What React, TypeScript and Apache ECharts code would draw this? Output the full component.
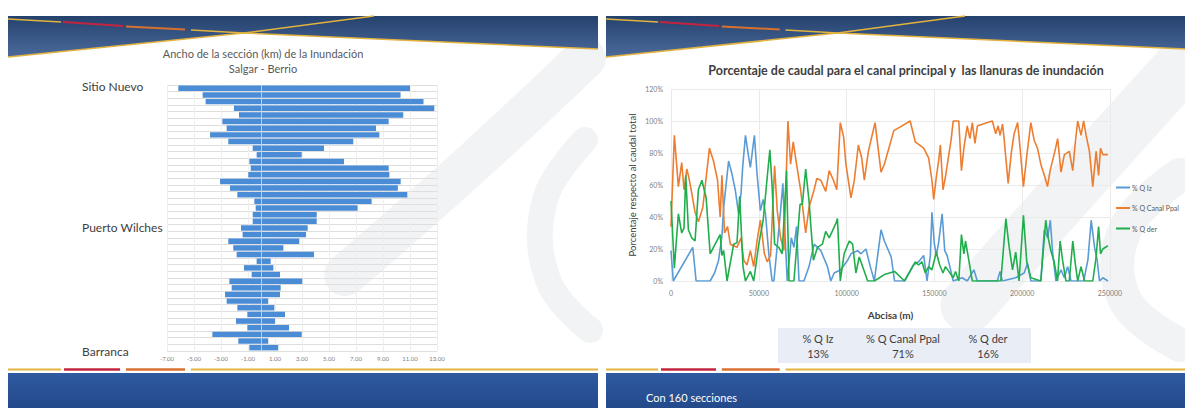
import React, { useEffect, useRef } from 'react';
import * as echarts from 'echarts';

const FONT = 'Lato, "Open Sans", sans-serif';

// ---- Ancho de la sección (km) de la inundación, Salgar - Berrio ----
const seccionesAncho = Array.from({ length: 40 }, (_, i) => `S${i + 1}`);
const lugares: [number, string, string][] = [
  [0, 'Sitio Nuevo', 'arriba'],
  [21, 'Puerto Wilches', 'medio'],
  [39, 'Barranca', 'abajo'],
];
const margenIzquierda = [
  -6.16, -4.36, -4.14, -2.04, -1.67, -2.9, -2.58, -3.81, -2.46, -0.65,
  -0.36, -0.9, -0.8, -0.98, -3.07, -2.33, -1.79, -0.53, -0.43, -0.65,
  -0.65, -1.52, -1.4, -2.46, -2.09, -1.84, -0.36, -1.3, -0.73, -2.38,
  -2.21, -2.7, -2.58, -1.79, -1.05, -1.89, -1.05, -3.64, -1.72, -0.9,
];
const margenDerecha = [
  11.0, 10.3, 12.0, 12.8, 10.5, 9.42, 8.48, 8.73, 6.8, 4.63,
  2.98, 6.11, 9.42, 9.47, 10.31, 10.1, 10.8, 8.16, 7.12, 4.09,
  4.09, 3.42, 3.3, 2.8, 1.62, 3.89, 0.68, 0.88, 1.37, 3.02,
  1.42, 1.37, 0.5, 0.95, 1.74, 1.0, 2.04, 2.98, 0.5, 1.24,
];

// ---- Porcentaje de caudal por abscisa (m) ----
const abscisaIz = [
  0, 1300, 12400, 14300, 22300, 24800, 27100, 29000, 30000, 32800,
  34700, 36600, 38500, 39900, 40800, 42400, 44300, 45200, 47500, 49000,
  50900, 52500, 53800, 55700, 57600, 58600, 62400, 63700, 64700, 66200,
  67700, 68500, 70000, 71500, 72900, 75700, 78600, 81500, 83400, 85300,
  89100, 91000, 92900, 96700, 100600, 102500, 106300, 108200, 111000, 113500,
  115800, 119600, 121500, 125400, 127300, 133000, 138100, 141000, 143900, 145800,
  147700, 148600, 149900, 151100, 152400, 154400, 155900, 157200, 158800, 160700,
  165800, 168700, 172500, 174400, 185800, 187400, 188700, 196300, 201100, 203000,
  204900, 210600, 212600, 214500, 216000, 217300, 219200, 222100, 224000, 225900,
  227800, 235000, 237400, 239300, 241200, 242700, 244000, 245900, 248800,
];
const qIz = [
  19, 0, 21, 0, 0, 5, 13, 28, 46, 75,
  67, 57, 42, 55, 71, 91, 77, 71, 91, 67,
  44, 51, 42, 17, 0, 0, 44, 61, 34, 0,
  17, 27, 21, 34, 0, 0, 9, 23, 21, 19,
  9, 0, 5, 7, 13, 17, 19, 17, 20, 9,
  0, 32, 25, 15, 0, 0, 10, 12, 16, 0,
  16, 43, 24, 16, 24, 42, 19, 16, 9, 0,
  2, 0, 7, 0, 0, 6, 0, 2, 5, 11,
  0, 0, 32, 27, 38, 18, 0, 7, 2, 9,
  0, 0, 13, 38, 21, 13, 0, 2, 0,
];

const abscisaCanal = [
  0, 1900, 4200, 6100, 7400, 9000, 10300, 11800, 13700, 15600,
  18100, 21900, 24200, 26500, 28000, 29000, 30500, 32200, 33800, 35700,
  37600, 39900, 41400, 43300, 45200, 47100, 49000, 50900, 53200, 54800,
  56700, 59000, 60500, 62400, 64300, 66600, 68100, 69600, 71500, 73800,
  76700, 78600, 81500, 83000, 85300, 88100, 90100, 92500, 94400, 96400,
  98300, 99600, 102500, 104400, 106700, 108600, 110100, 112400, 116200, 119600,
  121500, 126900, 130100, 136200, 139100, 143900, 146700, 148600, 149600, 151100,
  152400, 153400, 154900, 156300, 158200, 159500, 160700, 163900, 165400, 166800,
  168700, 170200, 171600, 173100, 174500, 177300, 180200, 183000, 184900, 186300,
  187400, 188800, 189700, 192000, 193900, 195400, 197400, 198800, 200700, 202600,
  204900, 206800, 208700, 210600, 212900, 214400, 215900, 218600, 220200, 222100,
  224000, 226800, 228800, 230100, 231600, 233500, 235000, 236400, 238300, 240200,
  242100, 243500, 244600, 245900, 248800,
];
const qCanal = [
  34, 91, 59, 74, 57, 70, 64, 55, 43, 37,
  46, 83, 75, 63, 40, 66, 30, 34, 23, 22,
  21, 27, 13, 10, 19, 9, 25, 38, 17, 12,
  16, 72, 44, 27, 19, 100, 73, 87, 73, 57,
  30, 46, 57, 64, 63, 56, 69, 63, 57, 99,
  90, 73, 52, 63, 85, 77, 63, 81, 99, 68,
  73, 94, 96, 100, 87, 83, 77, 63, 51, 65,
  75, 85, 57, 65, 79, 88, 100, 100, 69, 83,
  97, 89, 99, 86, 97, 98, 99, 100, 92, 97,
  91, 98, 89, 61, 81, 92, 99, 83, 59, 78,
  99, 88, 83, 73, 65, 59, 69, 81, 89, 68,
  79, 81, 69, 85, 100, 91, 100, 91, 81, 59,
  81, 66, 83, 79, 79,
];

const abscisaDer = [
  0, 1900, 4200, 6100, 7400, 8400, 9900, 11800, 13700, 15600,
  17600, 20000, 22300, 24600, 28000, 29000, 30000, 31900, 35700, 37600,
  39100, 41000, 42400, 45200, 47100, 50000, 52500, 54800, 56300, 57600,
  59000, 61400, 63300, 65800, 67200, 70000, 73500, 74800, 76700, 78600,
  81100, 83400, 86200, 88100, 90100, 93900, 94800, 96400, 98600, 101500,
  103400, 105300, 107200, 109100, 112000, 115800, 121500, 127300, 133000, 139100,
  141000, 142900, 144800, 146700, 148600, 151100, 153000, 154900, 156300, 158200,
  160700, 162000, 163900, 165400, 166800, 167700, 169600, 171600, 187800, 188800,
  190700, 192600, 194500, 196300, 198200, 200700, 202600, 204900, 210600, 213400,
  214800, 216300, 218200, 220100, 221600, 223000, 224900, 226800, 228800, 230100,
  231600, 233500, 235500, 240200, 242100, 243500, 244600, 245900, 248800,
];
const qDer = [
  50, 8, 42, 30, 33, 66, 32, 27, 25, 57,
  63, 52, 17, 22, 29, 16, 19, 0, 23, 24,
  53, 9, 0, 6, 0, 23, 38, 65, 82, 59,
  23, 21, 17, 69, 0, 0, 48, 48, 70, 50,
  13, 21, 23, 31, 27, 36, 39, 0, 17, 25,
  23, 5, 15, 9, 0, 0, 4, 6, 0, 12,
  10, 12, 5, 9, 7, 18, 10, 5, 9, 6,
  2, 6, 0, 29, 17, 25, 13, 0, 0, 13,
  39, 21, 7, 18, 0, 41, 12, 2, 0, 38,
  27, 19, 12, 0, 25, 13, 0, 0, 25, 12,
  0, 9, 0, 0, 15, 34, 17, 20, 22,
];

// Resumen del reparto de caudal
const resumenNombres = ['% Q Iz', '% Q Canal Ppal', '% Q der'];
const resumenValores = ['13%', '71%', '16%'];

const pares = (xs: number[], ys: number[]) => xs.map((x, i) => [x, ys[i]]);

// Decorado de cada diapositiva: franja superior, líneas doradas y franja inferior
function decoradoDiapositiva(x0: number, w: number): any[] {
  const L = (f: number) => x0 + f * w;
  const gold = '#e2b23e';
  const red = '#c3243f';
  const orange = '#d8702f';
  const franja = new echarts.graphic.LinearGradient(0, 0, 0, 1, [
    { offset: 0, color: '#25426e' },
    { offset: 1, color: '#4b6a9b' },
  ]);
  const franjaInf = new echarts.graphic.LinearGradient(0, 0, 0, 1, [
    { offset: 0, color: '#2f5aa0' },
    { offset: 1, color: '#23498a' },
  ]);
  const ln = (pts: number[][], color: string, width = 1.5) => ({
    type: 'polyline',
    z: 20,
    shape: { points: pts },
    style: { stroke: color, lineWidth: width, fill: null },
  });
  return [
    {
      type: 'polygon',
      z: 19,
      shape: { points: [[x0, 16], [x0 + w, 16], [x0 + w, 49], [L(0.4), 33], [x0, 57]] },
      style: { fill: franja },
    },
    ln([[x0, 19], [L(0.09), 22]], gold),
    ln([[L(0.093), 22], [L(0.195), 26]], red, 2),
    ln([[L(0.2), 26.5], [L(0.3), 29.5]], orange, 2),
    ln([[L(0.31), 30], [L(0.4), 33], [x0 + w, 49]], gold),
    ln([[x0, 57], [L(0.4), 33], [L(0.62), 16]], gold),
    ln([[x0, 369.5], [L(0.09), 369.5]], gold, 2),
    ln([[L(0.095), 369.5], [L(0.19), 369.5]], red, 2.5),
    ln([[L(0.2), 369.5], [L(0.3), 369.5]], orange, 2.5),
    ln([[L(0.31), 369.5], [x0 + w, 369.5]], gold, 2),
    {
      type: 'rect',
      z: 19,
      shape: { x: x0, y: 373, width: w, height: 36 },
      style: { fill: franjaInf },
    },
  ];
}

// Marca de agua en espiral, gris muy claro
function marcaAgua(pts: number[][], width: number): any {
  return {
    type: 'polyline',
    z: -5,
    shape: { points: pts, smooth: 0.4 },
    style: { stroke: 'rgba(210,214,222,0.3)', lineWidth: width, lineCap: 'round', fill: null },
  };
}

export default function App() {
  const ref = useRef<HTMLDivElement>(null);

  useEffect(() => {
    if (!ref.current) return;
    const chart = echarts.init(ref.current, undefined, { renderer: 'svg' });

    const textoLugar = (i: number) => lugares.find((l) => l[0] === i);

    const option: any = {
      animation: false,
      backgroundColor: '#ffffff',
      textStyle: { fontFamily: FONT },
      grid: [
        { left: 167, top: 85, width: 270, height: 266 },
        { left: 671, top: 89, right: 75, bottom: 127 },
      ],
      xAxis: [
        {
          type: 'value',
          gridIndex: 0,
          min: -7,
          max: 13,
          interval: 2,
          axisLine: { show: false },
          axisTick: { show: false },
          splitLine: { show: true, lineStyle: { color: '#eeeeee', width: 1 } },
          axisLabel: {
            fontSize: 6,
            color: '#808080',
            margin: 4,
            fontFamily: FONT,
            formatter: (v: number) => v.toFixed(2),
          },
        },
        {
          type: 'value',
          gridIndex: 1,
          min: 0,
          max: 250000,
          interval: 50000,
          axisLine: { show: false },
          axisTick: { show: false },
          splitLine: { show: true, lineStyle: { color: '#eaeaea', width: 1 } },
          axisLabel: {
            fontSize: 7,
            color: '#808080',
            margin: 8,
            fontFamily: FONT,
            formatter: (v: number) => String(v),
          },
          name: 'Abcisa (m)',
          nameLocation: 'middle',
          nameGap: 29,
          nameTextStyle: { fontSize: 10, color: '#404040', fontWeight: 'bold', fontFamily: FONT },
        },
      ],
      yAxis: [
        {
          type: 'category',
          gridIndex: 0,
          inverse: true,
          data: seccionesAncho,
          axisLine: { show: false, onZero: false },
          axisTick: { show: false },
          splitLine: { show: true, interval: 0, lineStyle: { color: '#dedede', width: 1 } },
          axisLabel: {
            interval: 0,
            align: 'left',
            margin: 85,
            fontSize: 12,
            color: '#404040',
            fontFamily: FONT,
            formatter: (_v: string, i: number) => {
              const l = textoLugar(i);
              return l ? `{${l[2]}|${l[1]}}` : '';
            },
            rich: {
              arriba: { fontSize: 12, color: '#404040', fontFamily: FONT, padding: [0, 0, 4, 0] },
              medio: { fontSize: 12, color: '#404040', fontFamily: FONT },
              abajo: { fontSize: 12, color: '#404040', fontFamily: FONT, padding: [8, 0, 0, 0] },
            },
          },
        },
        {
          type: 'value',
          gridIndex: 1,
          min: 0,
          max: 120,
          interval: 20,
          axisLine: { show: false },
          axisTick: { show: false },
          splitLine: { show: true, lineStyle: { color: '#eaeaea', width: 1 } },
          axisLabel: { fontSize: 7, color: '#808080', margin: 8, fontFamily: FONT, formatter: '{value}%' },
          name: 'Porcentaje respecto al caudal total',
          nameLocation: 'middle',
          nameRotate: 90,
          nameGap: 34,
          nameTextStyle: { fontSize: 9.5, color: '#404040', fontFamily: FONT },
        },
      ],
      legend: {
        orient: 'vertical',
        left: 1111,
        top: 179,
        icon: 'rect',
        itemWidth: 14,
        itemHeight: 2,
        itemGap: 13.5,
        data: ['% Q Iz', '% Q Canal Ppal', '% Q der'],
        textStyle: { fontSize: 7, color: '#595959', fontFamily: FONT, padding: [0, 0, 0, -3] },
      },
      series: [
        {
          name: 'Margen izquierda',
          type: 'bar',
          xAxisIndex: 0,
          yAxisIndex: 0,
          stack: 'ancho',
          barCategoryGap: '18%',
          data: margenIzquierda,
          itemStyle: { color: '#4a8cd6' },
          markLine: {
            silent: true,
            symbol: ['none', 'none'],
            label: { show: false },
            lineStyle: { color: 'rgba(205,205,205,0.9)', width: 1, type: 'solid' },
            data: [{ xAxis: 0 }],
          },
        },
        {
          name: 'Margen derecha',
          type: 'bar',
          xAxisIndex: 0,
          yAxisIndex: 0,
          stack: 'ancho',
          barCategoryGap: '18%',
          data: margenDerecha,
          itemStyle: { color: '#4a8cd6' },
        },
        {
          name: '% Q Iz',
          type: 'line',
          xAxisIndex: 1,
          yAxisIndex: 1,
          symbol: 'none',
          data: pares(abscisaIz, qIz),
          lineStyle: { color: '#5b9bd5', width: 1.6 },
          itemStyle: { color: '#5b9bd5' },
        },
        {
          name: '% Q Canal Ppal',
          type: 'line',
          xAxisIndex: 1,
          yAxisIndex: 1,
          symbol: 'none',
          data: pares(abscisaCanal, qCanal),
          lineStyle: { color: '#ed7d31', width: 1.6 },
          itemStyle: { color: '#ed7d31' },
        },
        {
          name: '% Q der',
          type: 'line',
          xAxisIndex: 1,
          yAxisIndex: 1,
          symbol: 'none',
          data: pares(abscisaDer, qDer),
          lineStyle: { color: '#1fae4b', width: 1.6 },
          itemStyle: { color: '#1fae4b' },
        },
      ],
      graphic: [
        // marcas de agua
        marcaAgua([[585, 58], [465, 170], [345, 275]], 42),
        marcaAgua([[585, 140], [545, 200], [548, 280], [590, 330]], 26),
        marcaAgua([[1180, 68], [1070, 190], [968, 305]], 55),
        marcaAgua([[1180, 175], [1125, 230], [1125, 300], [1180, 345]], 34),
        ...decoradoDiapositiva(8, 590),
        ...decoradoDiapositiva(606, 579),
        // títulos
        {
          type: 'text',
          z: 30,
          style: {
            x: 263, y: 53, text: 'Ancho de la sección (km) de la Inundación',
            fill: '#595959', font: `11px ${FONT}`, align: 'center', verticalAlign: 'middle',
          },
        },
        {
          type: 'text',
          z: 30,
          style: {
            x: 263, y: 68, text: 'Salgar - Berrio',
            fill: '#595959', font: `11px ${FONT}`, align: 'center', verticalAlign: 'middle',
          },
        },
        {
          type: 'text',
          z: 30,
          style: {
            x: 906, y: 70,
            text: 'Porcentaje de caudal para el canal principal y  las llanuras de inundación',
            fill: '#404040', font: `bold 12.5px ${FONT}`, align: 'center', verticalAlign: 'middle',
          },
        },
        // tabla resumen
        {
          type: 'rect',
          z: 1,
          shape: { x: 778, y: 328, width: 253, height: 35 },
          style: { fill: '#e9edf5' },
        },
        ...resumenNombres.flatMap((n, i) => [
          {
            type: 'text',
            z: 30,
            style: {
              x: [818, 903, 988][i], y: 338, text: n,
              fill: '#404040', font: `11px ${FONT}`, align: 'center', verticalAlign: 'middle',
            },
          },
          {
            type: 'text',
            z: 30,
            style: {
              x: [818, 903, 988][i], y: 353, text: resumenValores[i],
              fill: '#404040', font: `11px ${FONT}`, align: 'center', verticalAlign: 'middle',
            },
          },
        ]),
        {
          type: 'text',
          z: 30,
          style: {
            x: 646, y: 397, text: 'Con 160 secciones',
            fill: '#ffffff', font: `11px ${FONT}`, align: 'left', verticalAlign: 'middle',
          },
        },
      ],
    };

    chart.setOption(option);
    return () => chart.dispose();
  }, []);

  return (
    <div
      ref={ref}
      style={{ position: 'absolute', left: 0, top: 0, width: 1185, height: 408 }}
    />
  );
}
